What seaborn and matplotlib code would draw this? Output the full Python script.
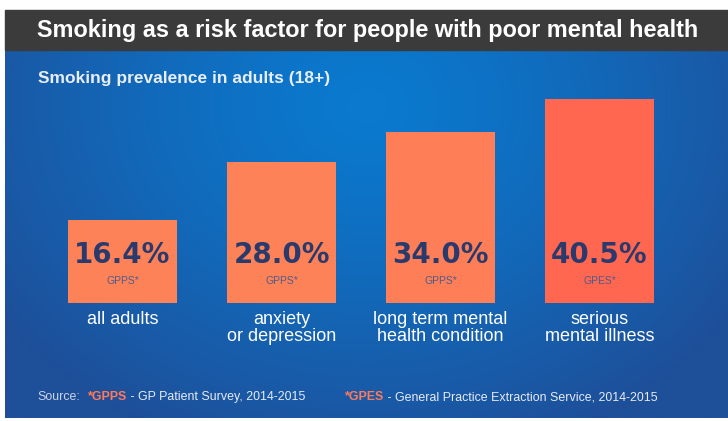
import numpy as np
import pandas as pd
import matplotlib
matplotlib.use("Agg")
import matplotlib.pyplot as plt
import seaborn as sns
from matplotlib.colors import to_rgb
from matplotlib.patches import Rectangle
from matplotlib import font_manager as fm

# ---- data ----
categories = ["all adults", "anxiety\nor depression",
              "long term mental\nhealth condition", "serious\nmental illness"]
values = [16.4, 28.0, 34.0, 40.5]
value_labels = ["16.4%", "28.0%", "34.0%", "40.5%"]
sources = ["GPPS*", "GPPS*", "GPPS*", "GPES*"]
title = "Smoking as a risk factor for people with poor mental health"
subtitle = "Smoking prevalence in adults (18+)"

sns.set_theme(style="white")
names = {f.name for f in fm.fontManager.ttflist}
NARROW = "Liberation Sans Narrow" if "Liberation Sans Narrow" in names else "Liberation Sans"
SANS = "Liberation Sans"

W, H = 728, 421
fig = plt.figure(figsize=(W / 100, H / 100), dpi=100)
fig.patch.set_facecolor("white")


def fx(px):
    return px / W


def fy(py):
    return 1 - py / H


# background gradient panel
bg = fig.add_axes([fx(5), fy(418), (W - 5) / W, (418 - 50) / H])
yy, xx = np.mgrid[0:1:200j, 0:1:400j]
r = np.sqrt(((xx - 0.5) / 0.62) ** 2 + ((yy - 0.15) / 1.0) ** 2)
t = np.clip(r, 0, 1)[..., None] ** 1.3
c0 = np.array(to_rgb("#0A7ACF"))
c1 = np.array(to_rgb("#1E4F99"))
bg.imshow(c0 * (1 - t) + c1 * t, aspect="auto")
bg.axis("off")

# title bar
fig.patches.append(Rectangle((fx(5), fy(50)), 1 - fx(5), 40 / H,
                             transform=fig.transFigure, color="#3B3B3B", zorder=1))

# main axes
px_per_unit = 5.04
ymax = 42
ax = fig.add_axes([fx(43), fy(303), 636 / W, ymax * px_per_unit / H])
ax.patch.set_alpha(0)
df = pd.DataFrame({"category": categories, "value": values})
bar_colors = ["#FE8258", "#FE8258", "#FE7E57", "#FF6751"]
sns.barplot(data=df, x="category", y="value", hue="category",
            palette=bar_colors, width=0.686, legend=False, ax=ax,
            saturation=1, edgecolor="none")
ax.set_xlim(-0.5, 3.5)
ax.set_ylim(0, ymax)
ax.axis("off")

for i, (vl, src, cat) in enumerate(zip(value_labels, sources, categories)):
    ax.annotate(vl, xy=(i, 0), xytext=(0, 48), textcoords="offset pixels",
                ha="center", va="center", fontsize=20, fontweight="heavy",
                family="DejaVu Sans", color="#2B3A6C")
    ax.annotate(src, xy=(i, 0), xytext=(0, 22), textcoords="offset pixels",
                ha="center", va="center", fontsize=7.5, family=SANS,
                color="#4F5C8A")
    ax.annotate(cat, xy=(i, 0), xytext=(0, -8), textcoords="offset pixels",
                ha="center", va="top", fontsize=13, family=SANS,
                color="white", linespacing=1.0)

# title / subtitle
tt = fig.text(fx(368), fy(30), title, ha="center", va="center",
              fontsize=17, fontweight="bold", family=NARROW, color="white")
st = fig.text(fx(38), fy(78), subtitle, ha="left", va="center",
              fontsize=10.5, fontweight="bold", family=SANS, color="#E8EEF7")

fig.canvas.draw()
rend = fig.canvas.get_renderer()
w = tt.get_window_extent(rend).width
tt.set_fontsize(17 * 663 / w)
w = st.get_window_extent(rend).width
st.set_fontsize(10.5 * 292 / w)

# source line
src_y = fy(397)
src_fs = 8.9


def place(x_px, s, color, weight="normal"):
    tx = fig.text(fx(x_px), src_y, s, ha="left", va="center", fontsize=src_fs,
                  family=NARROW, color=color, fontweight=weight)
    fig.canvas.draw()
    bb = tx.get_window_extent(fig.canvas.get_renderer())
    return bb.x1


place(37, "Source:", "#C9D4E8")
e = place(88, "*GPPS", "#FF7A5C", "bold")
place(e, " - GP Patient Survey, 2014-2015", "#E6ECF5")
e = place(345, "*GPES", "#FF7A5C", "bold")
place(e, " - General Practice Extraction Service, 2014-2015", "#E6ECF5")

fig.savefig("out.png", dpi=100, facecolor="white")
